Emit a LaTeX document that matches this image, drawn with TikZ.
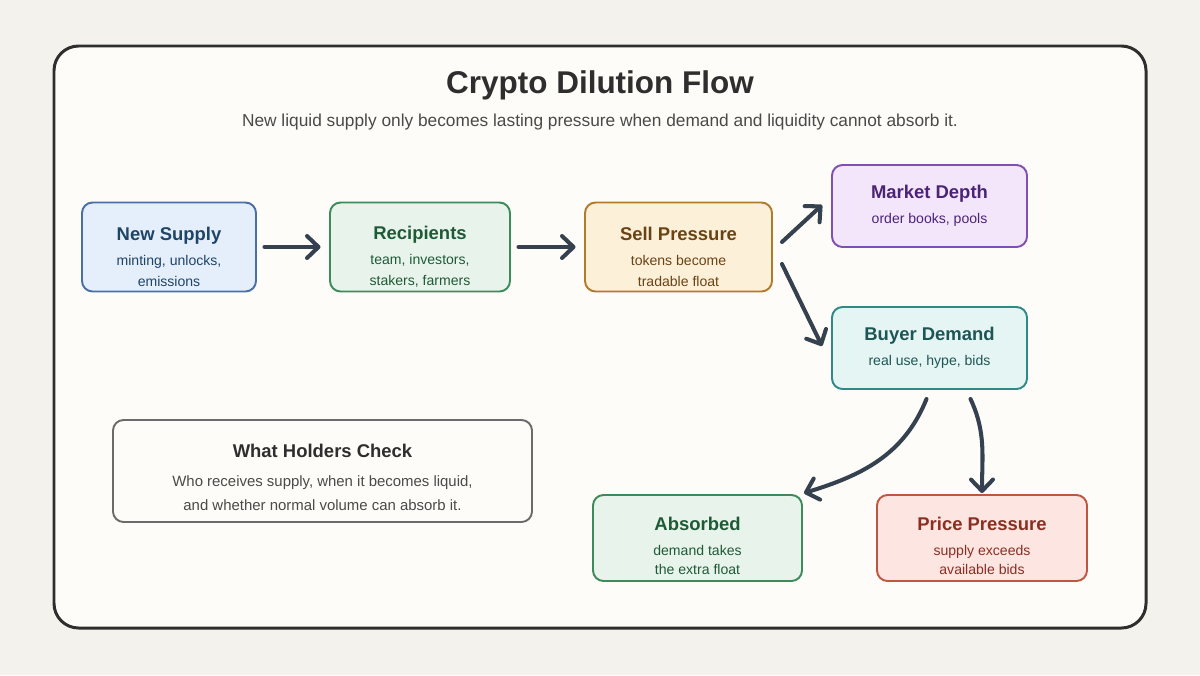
\documentclass[tikz,border=0pt]{standalone}
\usepackage{fontspec}
\setmainfont{Liberation Sans}
\usetikzlibrary{arrows.meta}
\definecolor{pagebg}{HTML}{F4F2EC}
\definecolor{cardbg}{HTML}{FDFCF8}
\definecolor{framegray}{HTML}{2E2E2E}
\definecolor{arrowgray}{HTML}{364150}
\definecolor{inkgray}{HTML}{4A4A4A}
% box colours: fill / border / text
\definecolor{bluefill}{HTML}{E5EFFC}   \definecolor{blueline}{HTML}{4A6FA5}   \definecolor{bluetext}{HTML}{1E4466}
\definecolor{greenfill}{HTML}{E8F4EB}  \definecolor{greenline}{HTML}{3D8A5A}  \definecolor{greentext}{HTML}{1F5A37}
\definecolor{amberfill}{HTML}{FDF0D9}  \definecolor{amberline}{HTML}{B27B2C}  \definecolor{ambertext}{HTML}{6A4314}
\definecolor{violetfill}{HTML}{F3E6FB} \definecolor{violetline}{HTML}{7F4FB5} \definecolor{violettext}{HTML}{4B2475}
\definecolor{tealfill}{HTML}{E5F5F4}   \definecolor{tealline}{HTML}{2E8A85}   \definecolor{tealtext}{HTML}{1E5656}
\definecolor{redfill}{HTML}{FDE6E1}    \definecolor{redline}{HTML}{C0563F}    \definecolor{redtext}{HTML}{8A2E22}
\definecolor{checkline}{HTML}{6B6B6B}
\newcommand{\boxhead}[1]{{\fontsize{10.5}{13}\selectfont\bfseries #1}}

\begin{document}
\begin{tikzpicture}[
  box/.style={draw,rounded corners=6pt,line width=1.1pt,inner sep=0pt},
  boxtxt/.style={align=center,inner sep=0pt,font=\fontsize{8}{12}\selectfont},
  flow/.style={draw=arrowgray,line width=2.3pt,line cap=round,
               -{Straight Barb[round,length=2.3mm,width=4.4mm,line width=2.3pt]}},
  flowgap/.style={shorten <=0.15cm,shorten >=0.17cm}
]
  % page and card
  \fill[pagebg] (0,0) rectangle (24,-13.5);
  \useasboundingbox (0,0) rectangle (24,-13.5);
  \draw[framegray,fill=cardbg,line width=1.7pt,rounded corners=14pt] (1.08,-0.92) rectangle (22.92,-12.56);
  % heading
  \node[font=\fontsize{17.9}{21}\selectfont\bfseries,text=framegray] (title) at (12,-1.70) {Crypto Dilution Flow};
  \node[font=\fontsize{9.85}{12}\selectfont,text=inkgray] (subtitle) at (12,-2.44)
       {New liquid supply only becomes lasting pressure when demand and liquidity cannot absorb it.};
  % top row
  \node[box,fill=bluefill,draw=blueline,minimum width=3.48cm,minimum height=1.78cm] (supply) at (3.38,-4.94) {};
  \node[boxtxt,text=bluetext] (supplytxt) at ([yshift=-0.2cm]supply.center)
       {\boxhead{New Supply}\\[2pt]minting, unlocks,\\emissions};
  \node[box,fill=greenfill,draw=greenline,minimum width=3.6cm,minimum height=1.78cm] (recip) at (8.40,-4.94) {};
  \node[boxtxt,text=greentext] (reciptxt) at ([yshift=-0.2cm]recip.center)
       {\boxhead{Recipients}\\[2pt]team, investors,\\stakers, farmers};
  \node[box,fill=amberfill,draw=amberline,minimum width=3.74cm,minimum height=1.78cm] (sell) at (13.57,-4.94) {};
  \node[boxtxt,text=ambertext] (selltxt) at ([yshift=-0.2cm]sell.center)
       {\boxhead{Sell Pressure}\\[2pt]tokens become\\tradable float};
  % right column
  \node[box,fill=violetfill,draw=violetline,minimum width=3.9cm,minimum height=1.64cm] (depth) at (18.59,-4.12) {};
  \node[boxtxt,text=violettext] (depthtxt) at (depth.center) {\boxhead{Market Depth}\\[2pt]order books, pools};
  \node[box,fill=tealfill,draw=tealline,minimum width=3.9cm,minimum height=1.64cm] (demand) at (18.59,-6.96) {};
  \node[boxtxt,text=tealtext] (demandtxt) at (demand.center) {\boxhead{Buyer Demand}\\[2pt]real use, hype, bids};
  % outcomes
  \node[box,fill=greenfill,draw=greenline,minimum width=4.18cm,minimum height=1.72cm] (absorbed) at (13.95,-10.76) {};
  \node[boxtxt,text=greentext,font=\fontsize{8}{11}\selectfont] (absorbedtxt) at ([yshift=-0.16cm]absorbed.center)
       {\boxhead{Absorbed}\\[3pt]demand takes\\the extra float};
  \node[box,fill=redfill,draw=redline,minimum width=4.2cm,minimum height=1.72cm] (price) at (19.64,-10.76) {};
  \node[boxtxt,text=redtext,font=\fontsize{8}{11}\selectfont] (pricetxt) at ([yshift=-0.16cm]price.center)
       {\boxhead{Price Pressure}\\[3pt]supply exceeds\\available bids};
  % side note
  \node[box,fill=cardbg,draw=checkline,minimum width=8.38cm,minimum height=2.04cm] (check) at (6.45,-9.42) {};
  \node[boxtxt,text=inkgray,font=\fontsize{8.5}{13.5}\selectfont] (checktxt) at ([yshift=-0.13cm]check.center)
       {{\color{framegray}\boxhead{What Holders Check}}\\[3pt]Who receives supply, when it becomes liquid,\\and whether normal volume can absorb it.};
  % connectors
  \draw[flow,flowgap] (supply) -- (recip);
  \draw[flow,flowgap] (recip) -- (sell);
  \draw[flow] ([shift={(0.18,0.1)}]sell.east) -- ([shift={(-0.18,0.02)}]depth.west);
  \draw[flow] ([shift={(0.18,-0.34)}]sell.east) -- ([shift={(-0.18,0.04)}]demand.west);
  \draw[flow] ([shift={(-0.06,-0.18)}]demand.south) to[out=-112,in=17] ([shift={(0.02,0.02)}]absorbed.north east);
  \draw[flow] ([shift={(0.82,-0.18)}]demand.south) to[out=-65,in=90] ([shift={(0,0.02)}]price.north);
\end{tikzpicture}
\end{document}
